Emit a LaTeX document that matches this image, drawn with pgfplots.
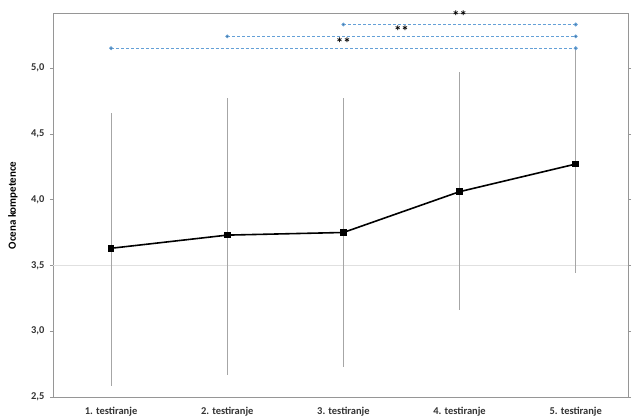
\documentclass[border=0pt]{standalone}
\usepackage{pgfplots}
\pgfplotsset{compat=1.18}
\usepackage{fontspec}
\setmainfont{Carlito}
\definecolor{sigblue}{RGB}{100,160,215}
\definecolor{framegray}{RGB}{150,150,150}
\begin{document}
\begin{tikzpicture}
\begin{axis}[
  scale only axis,
  width=575bp, height=383bp,
  xmin=0.5, xmax=5.45,
  ymin=2.5, ymax=5.41,
  xtick={1,2,3,4,5},
  xticklabels={1. testiranje,2. testiranje,3. testiranje,4. testiranje,5. testiranje},
  ytick={2.5,3,3.5,4,4.5,5},
  /pgf/number format/assume math mode=true,
  tick label style={font=\fontsize{10.5}{12}\selectfont\bfseries, text=black!80},
  yticklabel style={xshift=-2bp, /pgf/number format/.cd,fixed,fixed zerofill,precision=1,use comma},
  xticklabel style={yshift=-4bp},
  ylabel={\bfseries Ocena kompetence},
  every axis y label/.style={at={(rel axis cs:0,0.5)}, rotate=90, anchor=center, yshift=40bp, font=\fontsize{11}{12}\selectfont},
  axis line style={framegray, line width=1pt},
  xtick style={draw=none},
  ytick style={framegray},
  tick align=outside,
  major tick length=3bp,
  clip=false,
]
\coordinate (SW) at (rel axis cs:0,0);
\coordinate (NE) at (rel axis cs:1,1);
\addplot[black!12, line width=0.8pt, forget plot] coordinates {(0.5,3.5) (5.45,3.5)};
\addplot[
  black, line width=1.6pt, mark=square*, mark size=2.6pt,
  error bars/.cd, y dir=both, y explicit,
  error bar style={gray!70, line width=0.7pt}, error mark=none,
] table[x=x, y=y, y error plus=ep, y error minus=em] {
x y ep em
1 3.63 1.03 1.05
2 3.73 1.04 1.06
3 3.75 1.02 1.02
4 4.06 0.91 0.90
5 4.27 0.88 0.83
};
\addplot[sigblue, densely dashed, line width=0.8pt, mark=*, mark size=1.5pt, mark options={solid, fill=sigblue!70!black}] coordinates {(1,5.15) (5,5.15)};
\addplot[sigblue, densely dashed, line width=0.8pt, mark=*, mark size=1.5pt, mark options={solid, fill=sigblue!70!black}] coordinates {(2,5.24) (5,5.24)};
\addplot[sigblue, densely dashed, line width=0.8pt, mark=*, mark size=1.5pt, mark options={solid, fill=sigblue!70!black}] coordinates {(3,5.33) (5,5.33)};
\node[font=\bfseries\fontsize{15}{15}\selectfont, inner sep=0pt] at (axis cs:3,5.19) {**};
\node[font=\bfseries\fontsize{15}{15}\selectfont, inner sep=0pt] at (axis cs:3.5,5.28) {**};
\node[font=\bfseries\fontsize{15}{15}\selectfont, inner sep=0pt] at (axis cs:4,5.39) {**};
\end{axis}
\pgfresetboundingbox
\path ([xshift=-53bp,yshift=-22bp]SW) rectangle ([xshift=5bp,yshift=14bp]NE);
\end{tikzpicture}
\end{document}
